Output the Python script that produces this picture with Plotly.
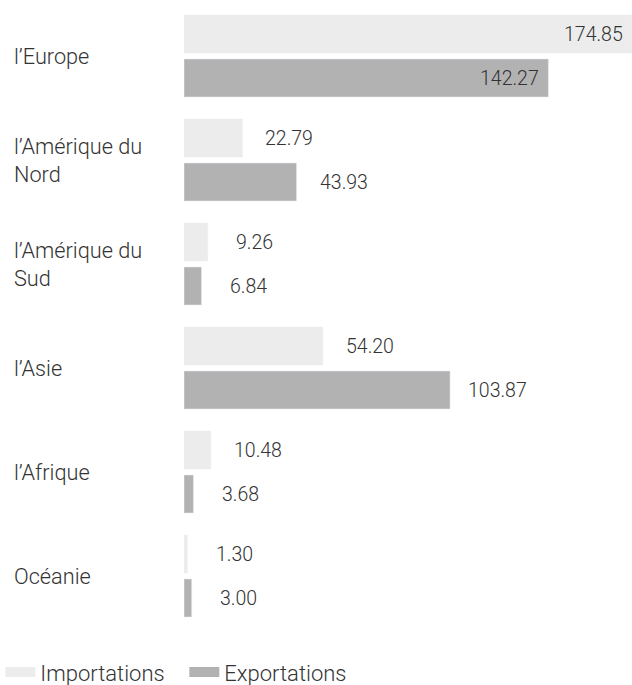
import plotly.graph_objects as go

categories = ["l’Europe", "l’Amérique du<br>Nord", "l’Amérique du<br>Sud", "l’Asie", "l’Afrique", "Océanie"]
importations = [174.85, 22.79, 9.26, 54.20, 10.48, 1.30]
exportations = [142.27, 43.93, 6.84, 103.87, 3.68, 3.00]
series_names = ["Importations", "Exportations"]

IMP_COLOR = "#ececec"
EXP_COLOR = "#b2b2b3"
TEXT_COLOR = "#333333"
FONT = "Roboto"
WEIGHT = 300

fig = go.Figure()
fig.add_trace(go.Bar(y=categories, x=importations, orientation="h", marker_color=IMP_COLOR,
                     name=series_names[0], showlegend=False, hoverinfo="skip"))
fig.add_trace(go.Bar(y=categories, x=exportations, orientation="h", marker_color=EXP_COLOR,
                     name=series_names[1], showlegend=False, hoverinfo="skip"))
# legend entries
for nm, col in zip(series_names, [IMP_COLOR, EXP_COLOR]):
    fig.add_trace(go.Scatter(x=[None], y=[None], mode="lines", line=dict(color=col, width=10), name=nm))

annotations = []
for vals, ys in ((importations, 22), (exportations, -22)):
    for cat, v in zip(categories, vals):
        inside = v > 120
        annotations.append(dict(
            x=v, y=cat, xref="x", yref="y", text=f"{v:.2f}", showarrow=False,
            xanchor="right" if inside else "center", xshift=-7 if inside else 47, yshift=ys,
            font=dict(family=FONT, size=19.5, color=TEXT_COLOR, weight=WEIGHT)))
for cat in categories:
    annotations.append(dict(
        x=-0.383, y=cat, xref="paper", yref="y", text=cat, showarrow=False,
        xanchor="left", align="left", font=dict(family=FONT, size=21.7, color=TEXT_COLOR, weight=WEIGHT)))

fig.update_layout(
    width=632, height=685,
    margin=dict(l=184, r=0, t=4, b=57, autoexpand=False),
    barmode="group", bargap=0.154, bargroupgap=0.136,
    plot_bgcolor="white", paper_bgcolor="white",
    xaxis=dict(range=[0, 174.9], visible=False, fixedrange=True),
    yaxis=dict(autorange="reversed", showticklabels=False, showgrid=False, zeroline=False,
               showline=False, ticks=""),
    showlegend=True,
    legend=dict(orientation="h", x=-0.41, xanchor="left", y=-0.071, yanchor="middle",
                entrywidth=139, entrywidthmode="pixels",
                font=dict(family=FONT, size=22, color=TEXT_COLOR, weight=WEIGHT), itemclick=False),
    annotations=annotations,
)

fig.write_html("out.html")
